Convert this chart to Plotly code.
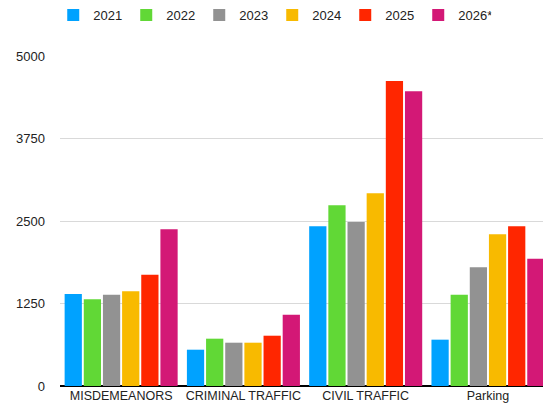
import plotly.graph_objects as go

categories = ["MISDEMEANORS", "CRIMINAL TRAFFIC", "CIVIL TRAFFIC", "Parking"]
years = ["2021", "2022", "2023", "2024", "2025", "2026*"]
values_2021 = [1394, 550, 2419, 702]
values_2022 = [1313, 717, 2737, 1384]
values_2023 = [1383, 656, 2485, 1798]
values_2024 = [1434, 656, 2919, 2298]
values_2025 = [1687, 762, 4621, 2419]
values_2026 = [2374, 1080, 4465, 1929]
tick_values = [0, 1250, 2500, 3750, 5000]

series = [values_2021, values_2022, values_2023, values_2024, values_2025, values_2026]
colors = ["#00A2FF", "#61D836", "#929292", "#F8BA00", "#FF2600", "#D31876"]

fig = go.Figure()
for name, vals, col in zip(years, series, colors):
    fig.add_trace(go.Bar(name=name, x=categories, y=vals, marker_color=col,
                         marker_line_width=0))

font_family = "Liberation Sans, Arial, Helvetica, sans-serif"
fig.update_layout(
    width=543, height=413,
    margin=dict(l=60, r=0, t=56, b=27),
    paper_bgcolor="white", plot_bgcolor="white",
    barmode="group", bargap=0.06, bargroupgap=0.1,
    font=dict(family=font_family, size=13, color="#222222"),
    showlegend=True,
    legend=dict(orientation="h", x=-0.014, xanchor="left", y=1.124, yanchor="middle",
                font=dict(size=13, color="#222222"), traceorder="normal",
                entrywidth=28, entrywidthmode="pixels", itemwidth=30),
    xaxis=dict(range=[-0.5, 3.45], showgrid=False, showline=False, ticks="",
               tickfont=dict(size=12.5, color="#222222"), fixedrange=True),
    yaxis=dict(range=[0, 5000], tickvals=tick_values, showgrid=True,
               gridcolor="#D9D9D9", gridwidth=1, zeroline=True,
               zerolinecolor="#000000", zerolinewidth=1.5, ticks="",
               ticklabelstandoff=14, tickfont=dict(size=13, color="#222222")),
)
fig.write_html("out.html")
